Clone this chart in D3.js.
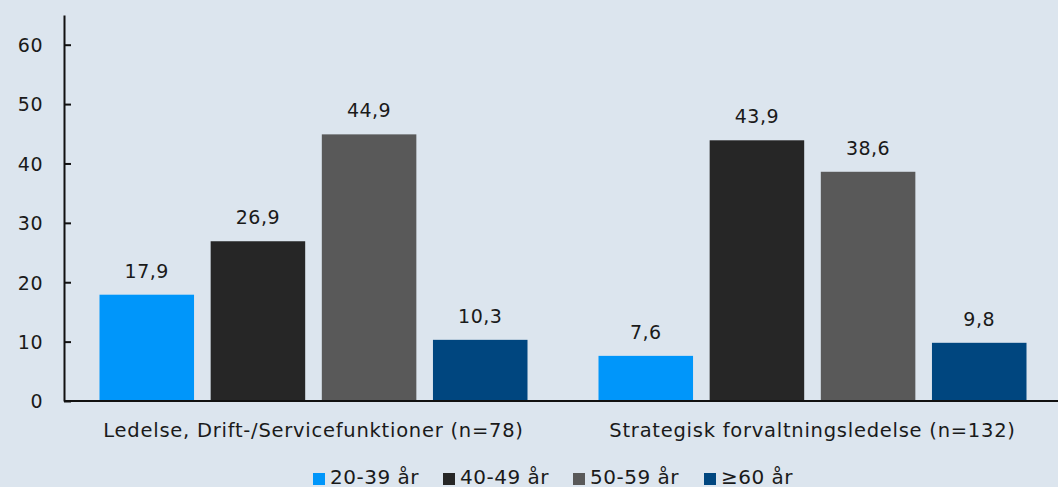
<!DOCTYPE html>
<html>
<head>
<meta charset="utf-8">
<script src="https://cdn.jsdelivr.net/npm/d3@7"></script>
<style>
  body { margin: 0; background: #dce5ee; }
  svg { display: block; font-family: "DejaVu Sans", sans-serif; }
</style>
</head>
<body>
<div id="chart"></div>
<script>
// data
var categories = ["Ledelse, Drift-/Servicefunktioner (n=78)", "Strategisk forvaltningsledelse (n=132)"];
var ageGroups = ["20-39 år", "40-49 år", "50-59 år", "≥60 år"];
var values = [
    [17.9, 26.9, 44.9, 10.3],
    [7.6, 43.9, 38.6, 9.8]
];
var yTicks = [0, 10, 20, 30, 40, 50, 60];
var colors = ["#0096fa", "#262626", "#595959", "#00467f"];

var width = 1058, height = 487;
var margin = {top: 15, left: 64, bottom: 86};
var plotBottom = height - margin.bottom;

var svg = d3.select("#chart").append("svg")
    .attr("width", width)
    .attr("height", height);

svg.append("rect").attr("width", width).attr("height", height).attr("fill", "#dce5ee");

// scales
var y = d3.scaleLinear().domain([0, 65]).range([plotBottom, margin.top]);
var x0 = d3.scaleBand().domain(categories).range([margin.left, 1062]).paddingInner(0).paddingOuter(0);
var groupWidth = 428;
var x1 = d3.scaleBand().domain(ageGroups).range([0, groupWidth]).paddingInner(16 / 107).paddingOuter(0);

// bars
var groups = svg.selectAll("g.group")
    .data(categories).enter()
  .append("g")
    .attr("class", "group")
    .attr("transform", d => `translate(${x0(d) + (x0.bandwidth() - groupWidth) / 2}, 0)`);

groups.selectAll("rect")
    .data((d, i) => values[i].map((v, j) => ({key: ageGroups[j], value: v, color: colors[j]})))
    .enter().append("rect")
    .attr("x", d => x1(d.key))
    .attr("y", d => y(d.value))
    .attr("width", x1.bandwidth())
    .attr("height", d => y(0) - y(d.value))
    .attr("fill", d => d.color);

// value labels
groups.selectAll("text.val")
    .data((d, i) => values[i].map((v, j) => ({key: ageGroups[j], value: v})))
    .enter().append("text")
    .attr("class", "val")
    .attr("x", d => x1(d.key) + x1.bandwidth() / 2)
    .attr("y", d => y(d.value) - 17)
    .attr("text-anchor", "middle")
    .attr("font-size", 19)
    .attr("letter-spacing", 0.5)
    .attr("fill", "#1a1a1a")
    .text(d => d3.format(".1f")(d.value).replace(".", ","));

// y axis
var yAxis = svg.append("g")
    .attr("transform", `translate(${margin.left}, 0)`)
    .call(d3.axisRight(y).tickValues(yTicks).tickSize(7).tickSizeOuter(0).tickFormat(d3.format("d")));
yAxis.select(".domain").attr("stroke", "#111").attr("stroke-width", 2);
yAxis.selectAll(".tick line").attr("stroke", "#111").attr("stroke-width", 2);
yAxis.selectAll(".tick text")
    .attr("x", -21)
    .attr("dy", "0.36em")
    .attr("text-anchor", "end")
    .attr("font-size", 19)
    .attr("letter-spacing", 0.5)
    .attr("fill", "#1a1a1a")
    .attr("font-family", "'DejaVu Sans', sans-serif");

// x axis
svg.append("line")
    .attr("x1", margin.left).attr("x2", width)
    .attr("y1", plotBottom).attr("y2", plotBottom)
    .attr("stroke", "#111").attr("stroke-width", 2);

svg.selectAll("text.cat")
    .data(categories).enter()
  .append("text")
    .attr("class", "cat")
    .attr("x", d => x0(d) + x0.bandwidth() / 2)
    .attr("y", 437)
    .attr("text-anchor", "middle")
    .attr("font-size", 19.5)
    .attr("letter-spacing", 0.75)
    .attr("fill", "#1a1a1a")
    .text(d => d);

// legend
var legendX = [313, 443, 573, 704];
var legend = svg.selectAll("g.legend")
    .data(ageGroups).enter()
  .append("g")
    .attr("class", "legend")
    .attr("transform", (d, i) => `translate(${legendX[i]}, 0)`);

legend.append("rect")
    .attr("x", 0).attr("y", 473)
    .attr("width", 12).attr("height", 12)
    .attr("fill", (d, i) => colors[i]);

legend.append("text")
    .attr("x", 17).attr("y", 484)
    .attr("font-size", 20)
    .attr("letter-spacing", 0.5)
    .attr("fill", "#1a1a1a")
    .text(d => d);
</script>
</body>
</html>
